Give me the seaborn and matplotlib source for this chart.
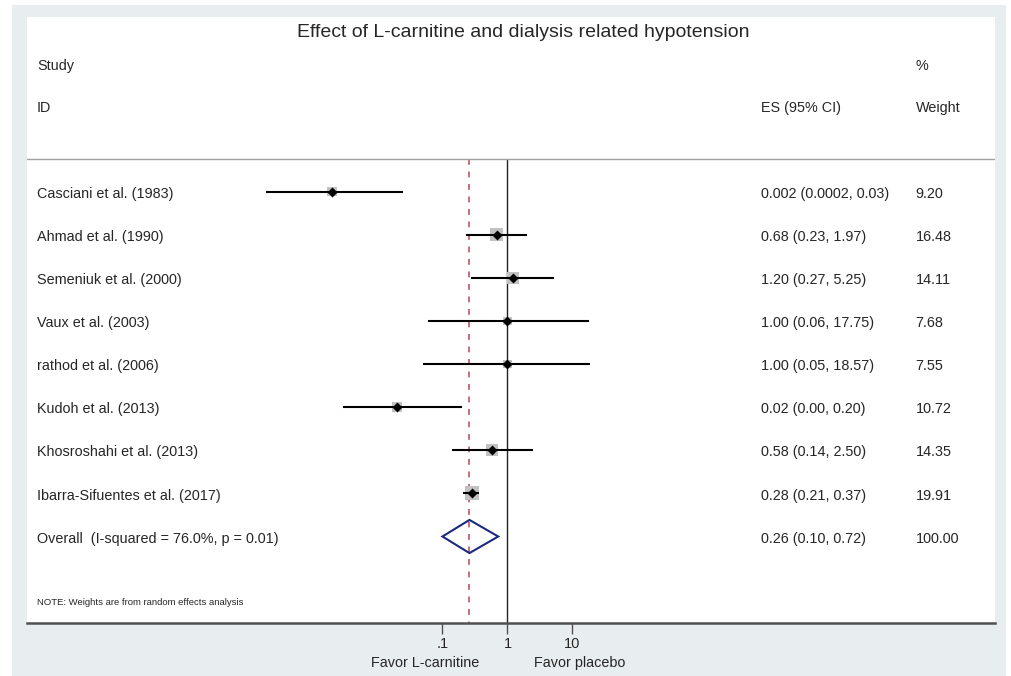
import numpy as np
import pandas as pd
import matplotlib
matplotlib.use("Agg")
import matplotlib.pyplot as plt
import matplotlib.transforms as mtransforms
from matplotlib.patches import Rectangle, Polygon
from matplotlib.ticker import NullLocator
import seaborn as sns

# study level data
studies = ['Casciani et al. (1983)', 'Ahmad et al. (1990)', 'Semeniuk et al. (2000)',
           'Vaux et al. (2003)', 'rathod et al. (2006)', 'Kudoh et al. (2013)',
           'Khosroshahi et al. (2013)', 'Ibarra-Sifuentes et al. (2017)']
es = [0.002, 0.68, 1.20, 1.00, 1.00, 0.02, 0.58, 0.28]
ci_lo = [0.00019, 0.23, 0.27, 0.06, 0.05, 0.003, 0.14, 0.21]
ci_hi = [0.025, 1.97, 5.25, 17.75, 18.57, 0.20, 2.50, 0.37]
weights = [9.20, 16.48, 14.11, 7.68, 7.55, 10.72, 14.35, 19.91]
es_labels = ['0.002 (0.0002, 0.03)', '0.68 (0.23, 1.97)', '1.20 (0.27, 5.25)',
             '1.00 (0.06, 17.75)', '1.00 (0.05, 18.57)', '0.02 (0.00, 0.20)',
             '0.58 (0.14, 2.50)', '0.28 (0.21, 0.37)']

overall_label = 'Overall  (I-squared = 76.0%, p = 0.01)'
overall_es, overall_lo, overall_hi = 0.26, 0.10, 0.72
overall_es_label = '0.26 (0.10, 0.72)'
overall_weight = '100.00'

xticks = [0.1, 1, 10]
xtick_labels = ['.1', '1', '10']

title = 'Effect of L-carnitine and dialysis related hypotension'
note = 'NOTE: Weights are from random effects analysis'

sns.set_style("white")
plt.rcParams['font.family'] = ['Liberation Sans', 'DejaVu Sans']

W, H = 1011, 676
fig = plt.figure(figsize=(W / 100, H / 100), dpi=100)
fig.patch.set_facecolor('white')
fig.patches.append(Rectangle((12 / W, 0), (1006 - 12) / W, (H - 5) / H, transform=fig.transFigure,
                             facecolor='#e8eef0', edgecolor='none', zorder=-1))

ax = fig.add_axes([27 / W, (H - 622.7) / H, (995 - 27) / W, (622.7 - 17) / H])
ax.set_facecolor('white')

df = pd.DataFrame({'study': studies, 'es': es, 'lo': ci_lo, 'hi': ci_hi,
                   'w': weights, 'row': np.arange(len(studies))})
n = len(studies)
sep_row = -0.76
bottom_row = 10.0

# reference lines
ax.vlines(1, sep_row, bottom_row, color='#222222', lw=1.0, zorder=1)
ax.vlines(overall_es, sep_row, bottom_row, color='#bd5566', lw=1.2,
          linestyles=[(0, (3.5, 4.0))], zorder=1)
ax.axhline(sep_row, color='#a0a0a0', lw=1.0, zorder=1)

# weight squares, CIs, point estimates
wmin, wmax = min(weights), max(weights)
sns.scatterplot(data=df, x='es', y='row', size='w', sizes=(5.1 * wmin, 5.1 * wmax),
                size_norm=(wmin, wmax), marker='s', color='#c2c2c2', linewidth=0,
                legend=False, ax=ax, zorder=2)
ax.hlines(df['row'], df['lo'], df['hi'], color='black', lw=1.5, zorder=3)
sns.scatterplot(data=df, x='es', y='row', marker='D', s=26, color='black',
                linewidth=0, legend=False, ax=ax, zorder=4)

# overall diamond
h = 0.385
diamond = Polygon([(overall_lo, n), (overall_es, n - h), (overall_hi, n), (overall_es, n + h)],
                  closed=True, fill=False, edgecolor='#1b2a7e', lw=1.5, zorder=4)
ax.add_patch(diamond)

ax.set_xscale('log')
ax.set_xlim(10 ** -7.392, 10 ** 7.5)
ax.set_ylim(bottom_row, -4.053)
ax.set_xlabel('')
ax.set_ylabel('')
ax.set_yticks([])
ax.set_xticks(xticks)
ax.set_xticklabels(xtick_labels)
ax.xaxis.set_minor_locator(NullLocator())
ax.tick_params(axis='x', direction='out', length=8, width=1, color='#505050',
               pad=2, labelsize=10.5, bottom=True)
for s in ['top', 'left', 'right']:
    ax.spines[s].set_visible(False)
ax.spines['bottom'].set_color('#505050')
ax.spines['bottom'].set_linewidth(1.8)

# text columns
trans = mtransforms.blended_transform_factory(ax.transAxes, ax.transData)
fs = 10.4
dy = 0.05
x_id, x_es, x_w = 0.0103, 0.758, 0.918
ax.text(0.513, -3.70, title, ha='center', va='center', fontsize=14, transform=trans)
ax.text(x_id, -2.96 + dy, 'Study', va='center', fontsize=fs, transform=trans)
ax.text(x_id, -1.99 + dy, 'ID', va='center', fontsize=fs, transform=trans)
ax.text(x_w, -2.96 + dy, '%', va='center', fontsize=fs, transform=trans)
ax.text(x_w, -1.99 + dy, 'Weight', va='center', fontsize=fs, transform=trans)
ax.text(x_es, -1.99 + dy, 'ES (95% CI)', va='center', fontsize=fs, transform=trans)

for i in range(n):
    ax.text(x_id, i + dy, studies[i], va='center', fontsize=fs, transform=trans)
    ax.text(x_es, i + dy, es_labels[i], va='center', fontsize=fs, transform=trans)
    ax.text(x_w, i + dy, f'{weights[i]:.2f}', va='center', fontsize=fs, transform=trans)

ax.text(x_id, n + dy, overall_label, va='center', fontsize=fs, transform=trans)
ax.text(x_es, n + dy, overall_es_label, va='center', fontsize=fs, transform=trans)
ax.text(x_w, n + dy, overall_weight, va='center', fontsize=fs, transform=trans)

ax.text(x_id, 9.52, note, va='center', fontsize=6.8, transform=trans)

ax.text(10 ** -1.27, 10.93, 'Favor L-carnitine', ha='center', va='center', fontsize=fs, clip_on=False)
ax.text(10 ** 1.115, 10.93, 'Favor placebo', ha='center', va='center', fontsize=fs, clip_on=False)

fig.savefig('out.png', dpi=100)
